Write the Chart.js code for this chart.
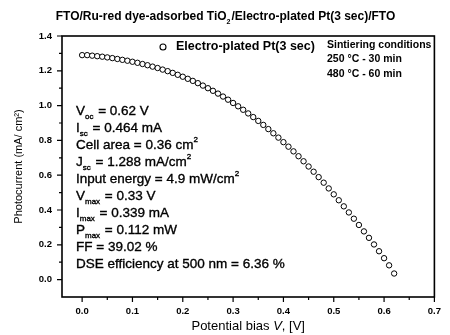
<!DOCTYPE html>
<html>
<head>
<meta charset="utf-8">
<script src="https://cdn.jsdelivr.net/npm/chart.js@4/dist/chart.umd.min.js"></script>
<style>
  html, body { margin: 0; padding: 0; background: #fff; }
</style>
</head>
<body>
<canvas id="myChart" width="450" height="335"></canvas>
<script>
const voltage = [0.00, 0.01, 0.02, 0.03, 0.04, 0.05, 0.06, 0.07, 0.08, 0.09,
                 0.10, 0.11, 0.12, 0.13, 0.14, 0.15, 0.16, 0.17, 0.18, 0.19,
                 0.20, 0.21, 0.22, 0.23, 0.24, 0.25, 0.26, 0.27, 0.28, 0.29,
                 0.30, 0.31, 0.32, 0.33, 0.34, 0.35, 0.36, 0.37, 0.38, 0.39,
                 0.40, 0.41, 0.42, 0.43, 0.44, 0.45, 0.46, 0.47, 0.48, 0.49,
                 0.50, 0.51, 0.52, 0.53, 0.54, 0.55, 0.56, 0.57, 0.58, 0.59,
                 0.60, 0.61, 0.62];
const photocurrent = [1.290, 1.290, 1.287, 1.284, 1.281, 1.277, 1.273, 1.268, 1.263, 1.258,
                      1.252, 1.246, 1.239, 1.232, 1.224, 1.216, 1.207, 1.198, 1.188, 1.177,
                      1.166, 1.154, 1.142, 1.129, 1.115, 1.100, 1.085, 1.069, 1.052, 1.034,
                      1.015, 0.996, 0.976, 0.955, 0.934, 0.912, 0.889, 0.865, 0.841, 0.816,
                      0.790, 0.764, 0.737, 0.709, 0.680, 0.650, 0.620, 0.589, 0.557, 0.524,
                      0.490, 0.456, 0.421, 0.386, 0.350, 0.314, 0.277, 0.240, 0.202, 0.163,
                      0.123, 0.082, 0.035];

const xMajorTicks = [0, 0.1, 0.2, 0.3, 0.4, 0.5, 0.6, 0.7];
const xMinorTicks = [0.05, 0.15, 0.25, 0.35, 0.45, 0.55, 0.65];
const yMajorTicks = [0, 0.2, 0.4, 0.6, 0.8, 1.0, 1.2, 1.4];
const yMinorTicks = [0.1, 0.3, 0.5, 0.7, 0.9, 1.1, 1.3];

const seriesLabel = 'Electro-plated Pt(3 sec)';
const titleParts = [{t: 'FTO/Ru-red dye-adsorbed TiO'}, {t: '2', sub: true}, {t: '/Electro-plated Pt(3 sec)/FTO'}];
const sinterLines = ['Sintiering conditions', '250 \u00b0C - 30 min', '480 \u00b0C - 60 min'];
const cellParams = [
  [{t: 'V'}, {t: 'oc', sub: true}, {t: ' = 0.62 V'}],
  [{t: 'I'}, {t: 'sc', sub: true}, {t: ' = 0.464 mA'}],
  [{t: 'Cell area = 0.36 cm'}, {t: '2', sup: true}],
  [{t: 'J'}, {t: 'sc', sub: true}, {t: ' = 1.288 mA/cm'}, {t: '2', sup: true}],
  [{t: 'Input energy = 4.9 mW/cm'}, {t: '2', sup: true}],
  [{t: 'V'}, {t: 'max', sub: true}, {t: ' = 0.33 V'}],
  [{t: 'I'}, {t: 'max', sub: true}, {t: ' = 0.339 mA'}],
  [{t: 'P'}, {t: 'max', sub: true}, {t: ' = 0.112 mW'}],
  [{t: 'FF = 39.02 %'}],
  [{t: 'DSE efficiency at 500 nm = 6.36 %'}]
];

const FONT = '"Liberation Sans", Arial, sans-serif';

function drawRich(ctx, parts, x, y, size, weight, align, stroke) {
  const fontFor = p => weight + ' ' + ((p.sub || p.sup) ? Math.round(size * 0.58) : size) + 'px ' + FONT;
  let total = 0;
  parts.forEach(p => { ctx.font = fontFor(p); total += ctx.measureText(p.t).width; });
  if (align === 'center') x -= total / 2;
  ctx.textAlign = 'left';
  ctx.textBaseline = 'middle';
  parts.forEach(p => {
    ctx.font = fontFor(p);
    const dy = p.sub ? size * 0.45 : (p.sup ? -size * 0.38 : 0);
    ctx.fillText(p.t, x, y + dy);
    if (stroke) { ctx.lineWidth = stroke; ctx.strokeText(p.t, x, y + dy); }
    x += ctx.measureText(p.t).width + ((p.sub || p.sup) ? 1 : 0);
  });
}

const decorations = {
  id: 'decorations',
  afterDraw(chart) {
    const ctx = chart.ctx;
    const a = chart.chartArea;
    const xs = chart.scales.x, ys = chart.scales.y;
    ctx.save();
    ctx.fillStyle = '#000';
    ctx.strokeStyle = '#000';

    // frame
    ctx.lineWidth = 1.6;
    ctx.strokeRect(a.left, a.top, a.right - a.left, a.bottom - a.top);

    // ticks, outward
    ctx.lineWidth = 1.2;
    ctx.beginPath();
    xMajorTicks.forEach(v => { const p = xs.getPixelForValue(v); ctx.moveTo(p, a.bottom); ctx.lineTo(p, a.bottom + 5); });
    xMinorTicks.forEach(v => { const p = xs.getPixelForValue(v); ctx.moveTo(p, a.bottom); ctx.lineTo(p, a.bottom + 3); });
    yMajorTicks.forEach(v => { const p = ys.getPixelForValue(v); ctx.moveTo(a.left, p); ctx.lineTo(a.left - 5, p); });
    yMinorTicks.forEach(v => { const p = ys.getPixelForValue(v); ctx.moveTo(a.left, p); ctx.lineTo(a.left - 3, p); });
    ctx.stroke();

    // title
    drawRich(ctx, titleParts, 225, 17, 12, 'bold', 'center');

    // x axis title with italic V
    ctx.textBaseline = 'middle';
    const xf = '13px ' + FONT, xfi = 'italic 13px ' + FONT;
    const s1 = 'Potential bias ', s3 = ', [V]';
    ctx.font = xf;
    const w1 = ctx.measureText(s1).width, w3 = ctx.measureText(s3).width;
    ctx.font = xfi;
    const w2 = ctx.measureText('V').width;
    let tx = (a.left + a.right) / 2 - (w1 + w2 + w3) / 2;
    ctx.textAlign = 'left';
    ctx.font = xf; ctx.fillText(s1, tx, 326); tx += w1;
    ctx.font = xfi; ctx.fillText('V', tx, 326); tx += w2;
    ctx.font = xf; ctx.fillText(s3, tx, 326);

    // legend
    ctx.lineWidth = 1.1;
    ctx.beginPath();
    ctx.arc(163, 47, 3, 0, Math.PI * 2);
    ctx.stroke();
    ctx.font = 'bold 12.5px ' + FONT;
    ctx.fillText(seriesLabel, 176, 47);

    // sintering conditions
    ctx.font = 'bold 10.5px ' + FONT;
    sinterLines.forEach((s, i) => ctx.fillText(s, 327, 45 + i * 14.5));

    // cell parameters
    cellParams.forEach((parts, i) => drawRich(ctx, parts, 76, 111 + i * 17, 13.5, 'normal', 'left', 0.35));

    ctx.restore();
  }
};

const data = {
  datasets: [{
    label: seriesLabel,
    data: voltage.map((v, i) => ({x: v, y: photocurrent[i]})),
    showLine: false,
    pointStyle: 'circle',
    pointRadius: 2.7,
    pointBorderWidth: 1,
    pointBackgroundColor: '#fff',
    pointBorderColor: '#000'
  }]
};

const config = {
  type: 'scatter',
  data: data,
  options: {
    responsive: false,
    animation: false,
    events: [],
    layout: { padding: { top: 36, right: 13, left: 0, bottom: 0 } },
    plugins: {
      legend: { display: false },
      title: { display: false },
      tooltip: { enabled: false }
    },
    scales: {
      x: {
        type: 'linear',
        min: -0.04,
        max: 0.7,
        afterBuildTicks: s => { s.ticks = xMajorTicks.map(v => ({value: v})); },
        afterFit: s => { s.height = 38; },
        grid: { display: false, drawTicks: false },
        border: { display: false },
        ticks: {
          color: '#000',
          padding: 9,
          font: { family: FONT, size: 9.5, weight: 'bold' },
          callback: v => v.toFixed(1)
        }
      },
      y: {
        type: 'linear',
        min: -0.1,
        max: 1.4,
        afterBuildTicks: s => { s.ticks = yMajorTicks.map(v => ({value: v})); },
        afterFit: s => { s.width = 62; },
        grid: { display: false, drawTicks: false },
        border: { display: false },
        title: {
          display: true,
          text: 'Photocurrent (mA/ cm\u00b2)',
          color: '#000',
          font: { family: FONT, size: 11 },
          padding: { top: 12, bottom: 0 }
        },
        ticks: {
          color: '#000',
          padding: 10,
          font: { family: FONT, size: 9.5, weight: 'bold' },
          callback: v => v.toFixed(1)
        }
      }
    }
  },
  plugins: [decorations]
};

const myChart = new Chart(document.getElementById('myChart'), config);
</script>
</body>
</html>
